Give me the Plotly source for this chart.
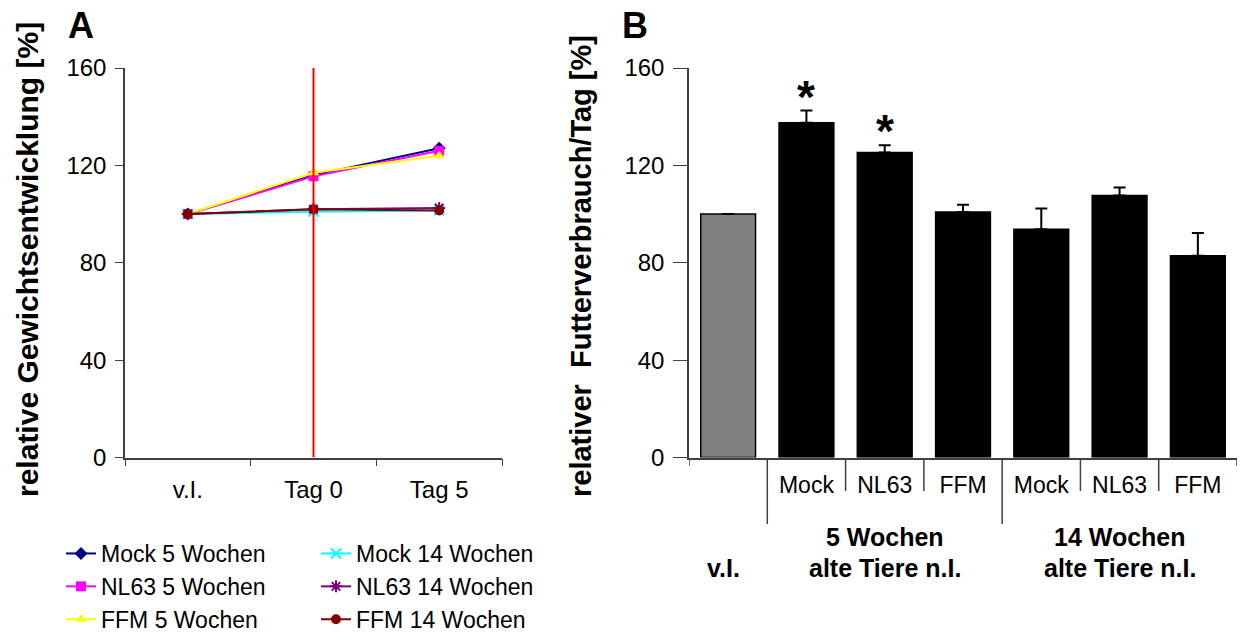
import plotly.graph_objects as go

W, H = 1242, 635
FONT = "Liberation Sans, Arial, sans-serif"

# ---- Panel A data ----
days = ["v.I.", "Tag 0", "Tag 5"]
mock5 = [100, 116, 127]
nl63_5 = [100, 115.5, 126]
ffm5 = [100, 117, 124]
mock14 = [100, 101, 101.5]
nl63_14 = [100, 102, 102.5]
ffm14 = [100, 102, 101.5]

# ---- Panel B data ----
group_labels = ["", "Mock", "NL63", "FFM", "Mock", "NL63", "FFM"]
food = [100, 137.5, 125.3, 100.8, 93.8, 107.6, 82.9]
food_err = [0, 5, 3, 3, 8.5, 3.3, 9.3]
sig = [False, True, True, False, False, False, False]

yticks = [0, 40, 80, 120, 160]

fig = go.Figure()

series = [
    ("Mock 5 Wochen", mock5, "#000080", "diamond", "legend"),
    ("NL63 5 Wochen", nl63_5, "#FF00FF", "square", "legend"),
    ("FFM 5 Wochen", ffm5, "#FFFF00", "triangle-up", "legend"),
    ("Mock 14 Wochen", mock14, "#00FFFF", "x-thin", "legend2"),
    ("NL63 14 Wochen", nl63_14, "#800080", "asterisk", "legend2"),
    ("FFM 14 Wochen", ffm14, "#800000", "circle", "legend2"),
]
for name, vals, col, sym, lg in series:
    thin = sym in ("x-thin", "asterisk")
    fig.add_trace(go.Scatter(
        x=days, y=vals, name=name, mode="lines+markers",
        line=dict(color=col, width=2),
        marker=dict(symbol=sym, size=10, color=col,
                    line=dict(color=col, width=2 if thin else 0)),
        xaxis="x", yaxis="y", legend=lg,
    ))

# bars
bar_x = list(range(len(food)))
fig.add_trace(go.Bar(
    x=bar_x, y=food, width=0.7,
    marker=dict(color=["#808080"] + ["#000000"] * (len(food) - 1),
                line=dict(color="#000000", width=1.5)),
    error_y=dict(type="data", symmetric=False, array=food_err,
                 arrayminus=[0] * len(food), color="#000000",
                 thickness=2, width=6, visible=True),
    xaxis="x2", yaxis="y2", showlegend=False,
))

ya = dict(range=[0, 160], tickvals=yticks, ticks="outside", ticklen=8,
          tickcolor="#404040", showline=True, linecolor="#404040", linewidth=1.5,
          showgrid=False, zeroline=False, ticklabelstandoff=4,
          tickfont=dict(family=FONT, size=24, color="black"))

y0 = 1 - 457.5 / H
y1 = 1 - 68 / H

fig.update_layout(
    width=W, height=H, margin=dict(l=0, r=0, t=0, b=0, autoexpand=False),
    plot_bgcolor="white", paper_bgcolor="white",
    font=dict(family=FONT, color="black"),
    xaxis=dict(domain=[125 / W, 502 / W], anchor="y", type="category",
               range=[-0.5, 2.5], tickson="boundaries", ticks="outside",
               ticklen=7, tickcolor="#404040", showline=True,
               linecolor="#404040", linewidth=1.5, showgrid=False,
               tickfont=dict(family=FONT, size=24, color="black"),
               ticklabelstandoff=10),
    yaxis=dict(domain=[y0, y1], anchor="x", **ya),
    xaxis2=dict(domain=[689 / W, 1237 / W], anchor="y2", range=[-0.5, 6.5],
                tickvals=bar_x, ticktext=group_labels, ticks="",
                showline=True, linecolor="#404040", linewidth=1.5,
                showgrid=False, zeroline=False,
                tickfont=dict(family=FONT, size=23, color="black"),
                ticklabelstandoff=6),
    yaxis2=dict(domain=[y0, y1], anchor="x2", **{**ya, "ticklen": 14}),
    legend=dict(x=61 / W, y=1 - 532 / H, xanchor="left", yanchor="top",
                font=dict(family=FONT, size=23, color="black"),
                bgcolor="rgba(0,0,0,0)", tracegroupgap=0, itemwidth=30),
    legend2=dict(x=316 / W, y=1 - 532 / H, xanchor="left", yanchor="top",
                 font=dict(family=FONT, size=23, color="black"),
                 bgcolor="rgba(0,0,0,0)", tracegroupgap=0, itemwidth=30),
)

# red vertical line at Tag 0
fig.add_shape(type="line", xref="x", yref="y", x0="Tag 0", x1="Tag 0",
              y0=0, y1=160, line=dict(color="red", width=2))

# separators under panel B
ypx = lambda p: 1 - p / H
for xv, bottom in [(-0.5, 466), (0.5, 524), (1.5, 491), (2.5, 491),
                   (3.5, 524), (4.5, 491), (5.5, 491), (6.5, 466)]:
    fig.add_shape(type="line", xref="x2", yref="paper", x0=xv, x1=xv,
                  y0=ypx(458), y1=ypx(bottom),
                  line=dict(color="#404040", width=1.5))

ann = []
# significance stars above error bars
for i, s in enumerate(sig):
    if s:
        ann.append(dict(text="<b>*</b>", x=i, y=food[i] + food_err[i],
                        xref="x2", yref="y2", yshift=14,
                        font=dict(size=46)))
pa = []
pa.append(dict(text="<b>A</b>", x=81 / W, y=ypx(25), font=dict(size=36)))
pa.append(dict(text="<b>B</b>", x=635 / W, y=ypx(26), font=dict(size=36)))
pa.append(dict(text="<b>relative Gewichtsentwicklung [%]</b>", x=28 / W,
               y=ypx(260), textangle=-90, font=dict(size=30)))
pa.append(dict(text="<b>relativer\u00a0 Futterverbrauch/Tag [%]</b>", x=581 / W,
               y=ypx(266), textangle=-90, font=dict(size=29)))
pa.append(dict(text="<b>v.I.</b>", x=723 / W, y=ypx(568), font=dict(size=25)))
pa.append(dict(text="<b>5 Wochen</b>", x=885 / W, y=ypx(537), font=dict(size=25)))
pa.append(dict(text="<b>alte Tiere n.I.</b>", x=885 / W, y=ypx(568), font=dict(size=25)))
pa.append(dict(text="<b>14 Wochen</b>", x=1120 / W, y=ypx(537), font=dict(size=25)))
pa.append(dict(text="<b>alte Tiere n.I.</b>", x=1120 / W, y=ypx(568), font=dict(size=25)))
for a in pa:
    a.update(xref="paper", yref="paper")
ann += pa
for a in ann:
    a.update(showarrow=False, xanchor="center", yanchor="middle")
    a["font"].update(family=FONT, color="black")
fig.update_layout(annotations=ann)

fig.write_html("out.html")
